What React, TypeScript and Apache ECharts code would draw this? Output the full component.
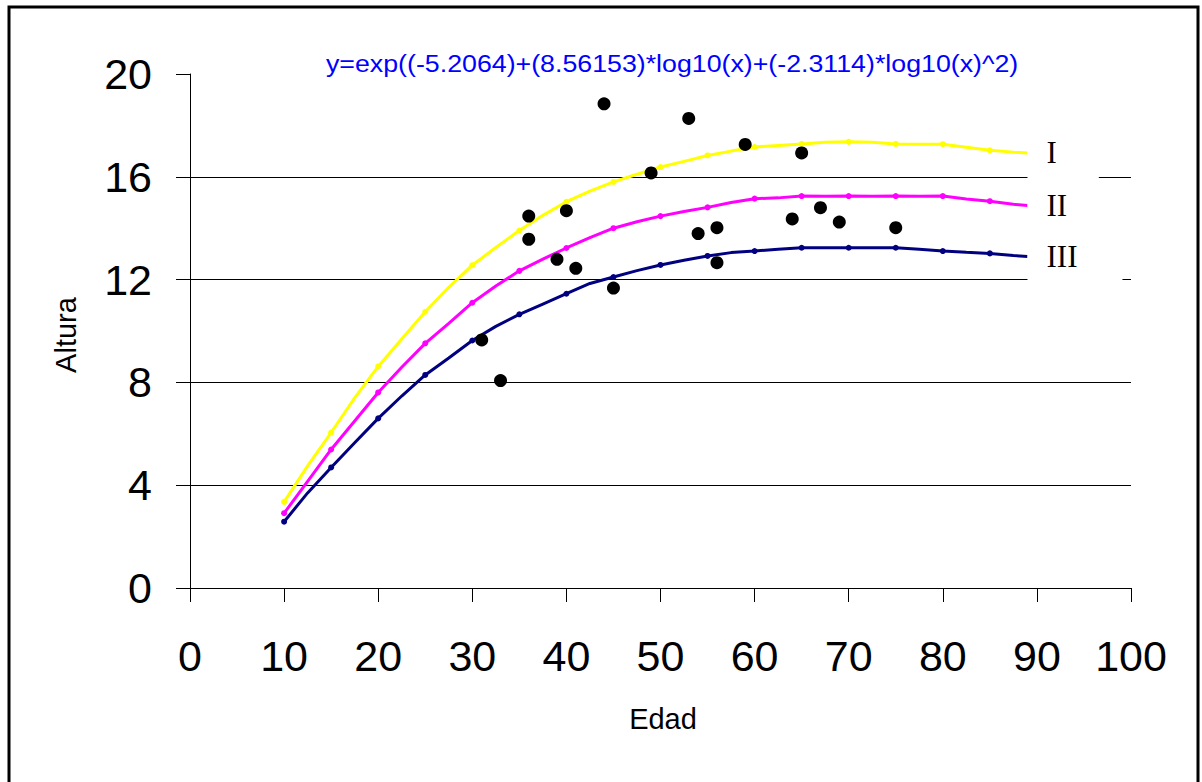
import React, { useEffect, useRef } from "react";
import * as echarts from "echarts";

// ---- data ----
const curveAges = [10, 12.5, 15, 17.5, 20, 22.5, 25, 27.5, 30, 32.5, 35, 37.5, 40, 42.5, 45, 47.5, 50, 52.5, 55, 57.5, 60, 62.5, 65, 67.5, 70, 72.5, 75, 77.5, 80, 82.5, 85, 87.5, 89];
const siteI = [3.35, 4.75, 6.05, 7.4, 8.62, 9.69, 10.75, 11.7, 12.56, 13.25, 13.91, 14.5, 15.03, 15.44, 15.8, 16.1, 16.38, 16.6, 16.83, 17.0, 17.16, 17.22, 17.28, 17.34, 17.36, 17.34, 17.28, 17.27, 17.27, 17.15, 17.03, 16.96, 16.93];
const siteII = [2.91, 4.15, 5.39, 6.5, 7.61, 8.59, 9.52, 10.3, 11.1, 11.75, 12.34, 12.8, 13.23, 13.63, 14.0, 14.25, 14.47, 14.65, 14.81, 15.0, 15.15, 15.18, 15.25, 15.24, 15.25, 15.24, 15.25, 15.24, 15.25, 15.14, 15.05, 14.93, 14.88];
const siteIII = [2.58, 3.7, 4.69, 5.65, 6.6, 7.47, 8.29, 8.95, 9.63, 10.18, 10.65, 11.05, 11.45, 11.85, 12.1, 12.35, 12.57, 12.75, 12.92, 13.05, 13.11, 13.18, 13.24, 13.24, 13.24, 13.24, 13.24, 13.18, 13.11, 13.06, 13.02, 12.94, 12.9];
const siteNames = ["I", "II", "III"];

const obsAge = [31, 33, 36, 36, 39, 40, 41, 44, 45, 49, 53, 54, 56, 56, 59, 64, 65, 67, 69, 75];
const obsHeight = [9.65, 8.07, 14.47, 13.57, 12.79, 14.68, 12.44, 18.84, 11.67, 16.15, 18.27, 13.79, 14.02, 12.66, 17.26, 14.36, 16.93, 14.8, 14.24, 14.02];

const gridValues = [4, 8, 12, 16];
const equation = "y=exp((-5.2064)+(8.56153)*log10(x)+(-2.3114)*log10(x)^2)";

const SANS = 'Arial, "Liberation Sans", sans-serif';
const SERIF = '"Times New Roman", "Liberation Serif", serif';

export default function App() {
  const ref = useRef<HTMLDivElement>(null);

  useEffect(() => {
    if (!ref.current) return;
    const chart = echarts.init(ref.current, undefined, { renderer: "svg" });

    const curves = [
      { name: siteNames[0], vals: siteI, color: "#FFFF00", pad: [6, 42, 16, 19] },
      { name: siteNames[1], vals: siteII, color: "#FF00FF", pad: [4, 20, 4, 19] },
      { name: siteNames[2], vals: siteIII, color: "#000080", pad: [4, 45, 14, 19] },
    ];

    const lineSeries = curves.map((c) => ({
      type: "line",
      name: c.name,
      data: curveAges.map((a, i) => [a, c.vals[i]]),
      z: 5,
      symbol: "circle",
      symbolSize: (v: number[]) => (v[0] % 5 === 0 && v[0] <= 85 ? 6 : 0),
      showSymbol: true,
      lineStyle: { color: c.color, width: 3 },
      itemStyle: { color: c.color, borderWidth: 0 },
      emphasis: { disabled: true },
      silent: true,
      endLabel: {
        show: true,
        formatter: c.name,
        color: "#000",
        fontSize: 31,
        fontFamily: SERIF,
        distance: 0,
        backgroundColor: "#ffffff",
        padding: c.pad,
      },
    }));

    const option = {
      animation: false,
      backgroundColor: "#fff",
      grid: { left: 190, top: 74, width: 941, height: 514, containLabel: false, outerBoundsMode: "none" },
      xAxis: {
        type: "value",
        min: 0,
        max: 100,
        interval: 10,
        axisLine: { show: true, onZero: false, lineStyle: { color: "#000", width: 1 } },
        axisTick: { show: true, length: 14, lineStyle: { color: "#000", width: 1 } },
        axisLabel: { fontSize: 43, color: "#000", fontFamily: SANS, margin: 46 },
        splitLine: { show: false },
      },
      yAxis: {
        type: "value",
        min: 0,
        max: 20,
        interval: 4,
        axisLine: { show: true, onZero: false, lineStyle: { color: "#000", width: 1 } },
        axisTick: { show: true, length: 14, lineStyle: { color: "#000", width: 1 } },
        axisLabel: { fontSize: 43, color: "#000", fontFamily: SANS, margin: 38 },
        splitLine: { show: false },
      },
      graphic: [
        {
          type: "rect",
          shape: { x: 9, y: 7, width: 1189, height: 800 },
          style: { fill: "transparent", stroke: "#000", lineWidth: 3 },
          silent: true,
        },
        {
          type: "text",
          x: 326,
          y: 64,
          scaleX: 1.115,
          style: { text: equation, fontSize: 24, fontFamily: SANS, fill: "#0000FF", align: "left", verticalAlign: "middle" },
          silent: true,
        },
        {
          type: "text",
          x: 66,
          y: 335,
          rotation: Math.PI / 2,
          style: { text: "Altura", fontSize: 29, fontFamily: SANS, fill: "#000", align: "center", verticalAlign: "middle" },
          silent: true,
        },
        {
          type: "text",
          x: 663,
          y: 719,
          style: { text: "Edad", fontSize: 29, fontFamily: SANS, fill: "#000", align: "center", verticalAlign: "middle" },
          silent: true,
        },
      ],
      series: [
        {
          type: "scatter",
          data: [],
          z: 0,
          silent: true,
          markLine: {
            silent: true,
            z: 0,
            symbol: ["none", "none"],
            label: { show: false },
            lineStyle: { color: "#000", width: 1, type: "solid" },
            data: gridValues.map((v) => ({ yAxis: v })),
          },
        },
        ...lineSeries,
        {
          type: "scatter",
          name: "obs",
          z: 6,
          data: obsAge.map((a, i) => [a, obsHeight[i]]),
          symbol: "circle",
          symbolSize: 13,
          itemStyle: { color: "#000", opacity: 1 },
          silent: true,
        },
      ],
    };

    chart.setOption(option as any);
    return () => chart.dispose();
  }, []);

  return (
    <div
      ref={ref}
      style={{ position: "fixed", left: 0, top: 0, width: 1202, height: 782, background: "#fff" }}
    />
  );
}
